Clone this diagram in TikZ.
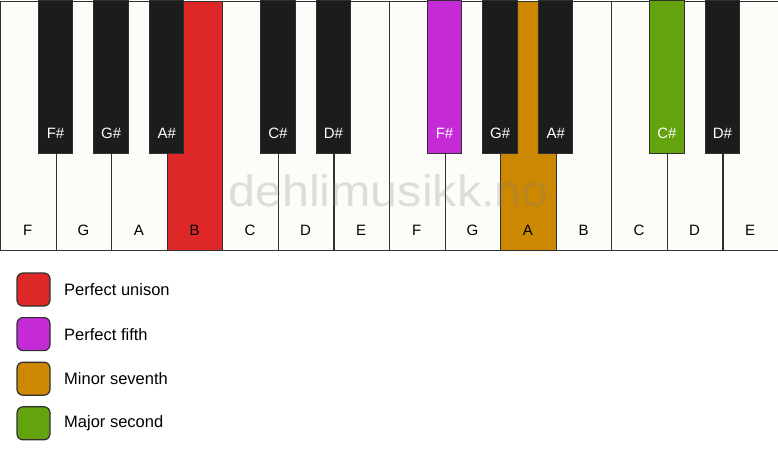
\documentclass[tikz,border=0pt]{standalone}
\usepackage{fontspec}
\setmainfont{Liberation Sans}
\definecolor{keywhite}{HTML}{FDFCF8}
\definecolor{keyblack}{HTML}{1C1C1C}
\definecolor{keyline}{HTML}{303030}
\definecolor{unisonred}{HTML}{DE2828}
\definecolor{fifthpurple}{HTML}{C42AD6}
\definecolor{seventhgold}{HTML}{CC8800}
\definecolor{secondgreen}{HTML}{63A40E}
\tikzset{
  whitekey/.style={draw=keyline,line width=1.1pt,fill=keywhite,minimum width=55.571pt,
    minimum height=249pt,inner sep=0pt,anchor=north west},
  blackkey/.style={draw=keyline,line width=1pt,fill=keyblack,minimum width=34.5pt,
    minimum height=153pt,inner sep=0pt,anchor=north},
  whitename/.style={font=\fontsize{15}{18}\selectfont,text=black,inner sep=0pt},
  blackname/.style={font=\fontsize{15}{18}\selectfont,text=white,inner sep=0pt},
  legendbox/.style={draw=keyline,line width=1.2pt,rounded corners=6pt,minimum size=33pt,inner sep=0pt},
  legendtext/.style={font=\fontsize{16.5}{19}\selectfont,anchor=west,inner sep=0pt},
}
\begin{document}
\begin{tikzpicture}[x=1pt,y=-1pt]
\useasboundingbox[fill=white] (0,0) rectangle (778,461);
% white keys
\foreach \n/\i/\c in {F/0/keywhite,G/1/keywhite,A/2/keywhite,B/3/unisonred,C/4/keywhite,
  D/5/keywhite,E/6/keywhite,F/7/keywhite,G/8/keywhite,A/9/seventhgold,B/10/keywhite,
  C/11/keywhite,D/12/keywhite,E/13/keywhite}{
  \node[whitekey,fill=\c] (w\i) at (\i*55.571,0.5) {};
  \node[whitename] (wn\i) at (\i*55.571+27.79,230) {\n};
}
% black keys
\foreach \n/\i/\c in {F\#/0/keyblack,G\#/1/keyblack,A\#/2/keyblack,C\#/4/keyblack,
  D\#/5/keyblack,F\#/7/fifthpurple,G\#/8/keyblack,A\#/9/keyblack,C\#/11/secondgreen,
  D\#/12/keyblack}{
  \node[blackkey,fill=\c] (b\i) at (\i*55.571+55.571,0) {};
  \node[blackname] (bn\i) at (\i*55.571+55.571,133) {\n};
}
% watermark
\node[font=\fontsize{44}{50}\selectfont,text=gray,text opacity=0.25,xscale=1.1,
  anchor=base,inner sep=0pt] (mark) at (388.5,206.5) {dehlimusikk.no};
% legend
\foreach \t/\c/\k in {Perfect unison/unisonred/0,Perfect fifth/fifthpurple/1,
  Minor seventh/seventhgold/2,Major second/secondgreen/3}{
  \node[legendbox,fill=\c] (box\k) at (33.5,289.5+\k*44.6) {};
  \node[legendtext] (txt\k) at (64,289.5+\k*44.6) {\t};
}
\end{tikzpicture}
\end{document}
